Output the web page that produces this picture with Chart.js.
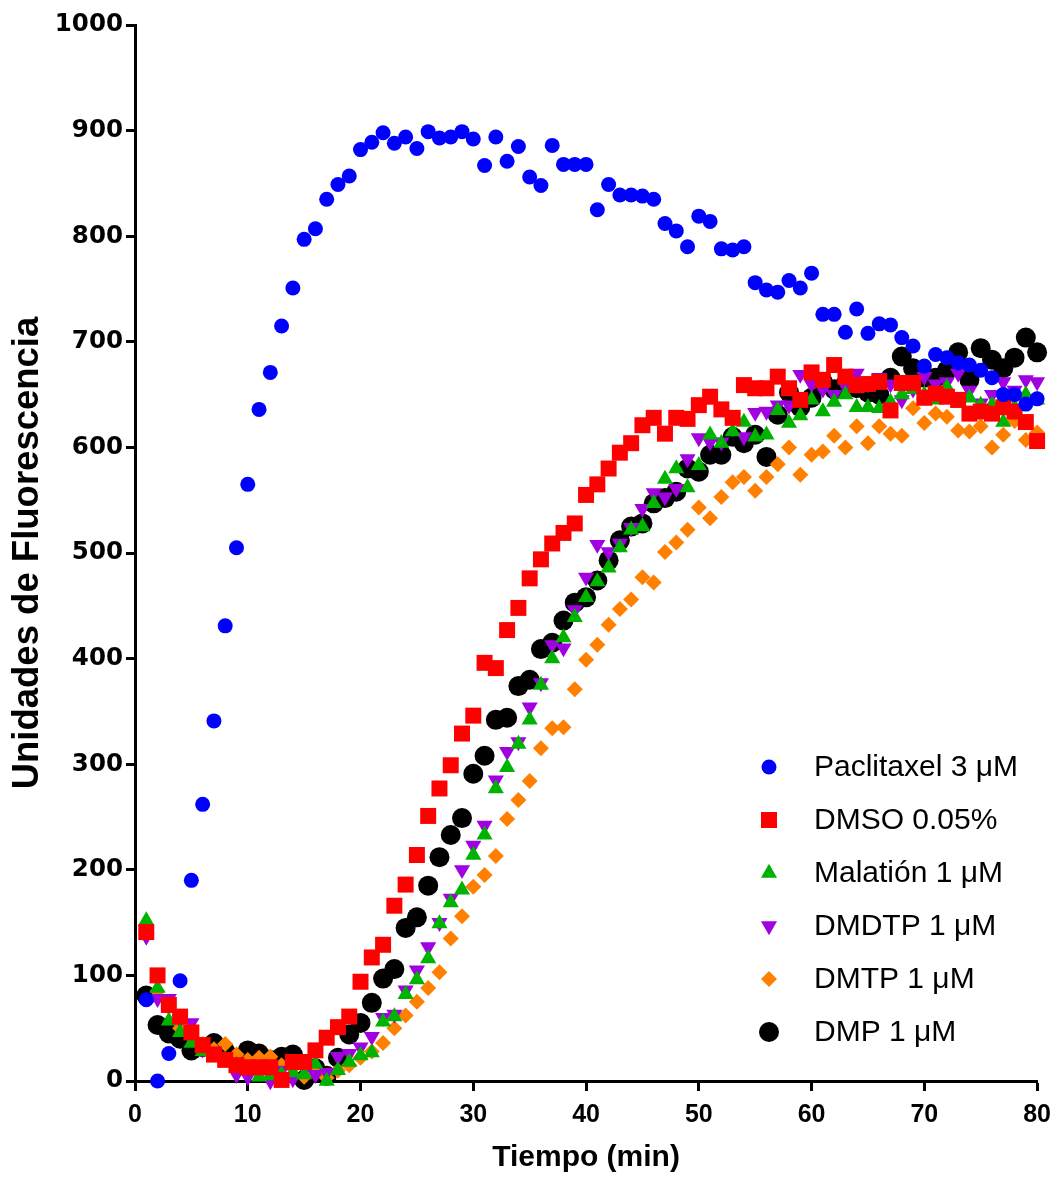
<!DOCTYPE html>
<html>
<head>
<meta charset="utf-8">
<script src="https://cdn.jsdelivr.net/npm/chart.js@4/dist/chart.umd.min.js"></script>
<style>
  html, body { margin: 0; padding: 0; background: #fff; }
  #wrap { width: 1060px; height: 1177px; }
</style>
</head>
<body>
<div id="wrap"><canvas id="fluoChart" width="1060" height="1177"></canvas></div>
<script>
// tiempo en minutos
const tiempo = [1,2,3,4,5,6,7,8,9,10,11,12,13,14,15,16,17,18,19,20,
  21,22,23,24,25,26,27,28,29,30,31,32,33,34,35,36,37,38,39,40,
  41,42,43,44,45,46,47,48,49,50,51,52,53,54,55,56,57,58,59,60,
  61,62,63,64,65,66,67,68,69,70,71,72,73,74,75,76,77,78,79,80];

const paclitaxel = [77,0,26,95,190,262,341,431,505,565,636,671,715,751,797,807,835,849,857,882,
  889,898,888,894,883,899,893,894,899,892,867,894,871,885,856,848,886,868,868,868,
  825,849,839,839,838,835,812,805,790,819,814,788,787,790,756,749,747,758,751,765,
  726,726,709,731,708,717,716,704,696,677,688,685,680,678,673,666,650,650,641,646];

const dmso = [141,100,72,61,46,34,25,20,15,13,13,13,1,18,18,29,41,51,61,94,
  117,129,166,186,214,251,277,299,329,346,396,391,427,448,476,494,509,519,528,555,
  565,580,595,604,621,628,613,628,627,640,648,636,628,659,656,656,667,656,645,671,
  664,678,667,659,660,662,635,661,661,647,651,648,645,632,634,632,638,634,624,606];

const malation = [152,88,57,46,36,28,23,20,15,10,4,5,6,8,6,16,0,10,18,24,
  27,56,61,82,96,116,149,169,181,214,233,277,297,319,342,375,400,420,439,458,
  473,486,505,522,525,547,570,580,562,583,612,604,615,624,610,612,635,623,630,645,
  634,643,650,638,638,637,643,650,655,650,645,657,642,647,640,640,624,638,650,645];

const dmdtp = [137,78,78,58,55,30,28,22,6,4,10,0,10,2,12,6,8,23,26,32,
  42,60,63,86,105,127,150,173,200,223,242,285,312,321,354,377,413,410,446,477,
  508,501,509,524,542,557,553,561,589,609,605,605,628,610,633,634,640,640,669,660,
  655,650,658,670,660,666,660,645,655,667,660,662,670,654,642,650,662,654,664,662];

const dmtp = [138,85,70,50,42,35,30,35,25,20,22,23,15,12,4,8,3,10,15,22,
  28,36,50,62,75,88,103,135,156,184,195,213,248,266,284,315,334,335,371,399,
  413,432,447,456,477,472,501,510,522,543,533,553,567,572,559,572,584,600,574,593,
  596,611,600,620,604,620,613,611,637,623,632,629,616,615,620,600,612,625,607,614];

const dmp = [81,53,45,40,29,32,36,28,22,29,26,20,23,25,1,12,5,22,44,55,
  74,97,106,145,155,185,212,233,249,291,308,342,344,374,380,409,415,436,453,458,
  474,493,512,525,528,547,552,558,580,577,593,593,610,604,612,591,631,652,638,647,
  662,655,660,656,652,650,666,686,675,666,666,673,690,664,694,683,675,685,704,690];

const etiquetas = ['Paclitaxel 3 \u03BCM', 'DMSO 0.05%', 'Malati\u00F3n 1 \u03BCM',
  'DMDTP 1 \u03BCM', 'DMTP 1 \u03BCM', 'DMP 1 \u03BCM'];

function puntos(vals) {
  return vals.map(function (v, i) { return { x: tiempo[i], y: v }; });
}

function serie(label, vals, color, style, radius, rotation) {
  return {
    label: label,
    data: puntos(vals),
    showLine: false,
    backgroundColor: color,
    borderColor: color,
    pointBackgroundColor: color,
    pointBorderWidth: 0,
    pointStyle: style,
    pointRadius: radius,
    pointHoverRadius: radius,
    pointRotation: rotation || 0,
    clip: false
  };
}

// leyenda dentro del area del grafico
const leyendaInterna = {
  id: 'leyendaInterna',
  afterDraw: function (chart) {
    const ctx = chart.ctx;
    const x0 = 769, y0 = 767, paso = 53;
    ctx.save();
    chart.data.datasets.forEach(function (ds, i) {
      const y = y0 + i * paso;
      ctx.fillStyle = ds.pointBackgroundColor;
      const opts = { pointStyle: ds.pointStyle, radius: ds.pointRadius, rotation: ds.pointRotation, borderWidth: 0 };
      Chart.helpers.drawPoint(ctx, opts, x0, y);
      ctx.fillStyle = '#000';
      ctx.font = '30px "Liberation Sans", Arial, sans-serif';
      ctx.textBaseline = 'middle';
      ctx.textAlign = 'left';
      ctx.fillText(ds.label, 814, y + 1);
    });
    ctx.restore();
  }
};

document.addEventListener('DOMContentLoaded', function () {
  const el = document.getElementById('fluoChart');
  new Chart(el, {
    type: 'scatter',
    data: {
      datasets: [
        serie(etiquetas[0], paclitaxel, '#0000ff', 'circle', 7.5),
        serie(etiquetas[1], dmso, '#ff0000', 'rect', 11.3),
        serie(etiquetas[2], malation, '#00b300', 'triangle', 9.3),
        serie(etiquetas[3], dmdtp, '#a100e0', 'triangle', 9.3, 180),
        serie(etiquetas[4], dmtp, '#ff8000', 'rectRot', 8),
        serie(etiquetas[5], dmp, '#000000', 'circle', 10)
      ]
    },
    options: {
      responsive: false,
      animation: false,
      devicePixelRatio: 1,
      layout: { padding: { left: 0, top: 25, right: 20, bottom: 0 } },
      plugins: { legend: { display: false }, tooltip: { enabled: false } },
      scales: {
        x: {
          type: 'linear',
          min: 0, max: 80,
          afterFit: function (s) { s.height = 1177 - 1081; },
          ticks: { stepSize: 10, color: '#000', padding: 9,
            callback: function (v) { return String(v); },
            font: { family: '"Liberation Sans", Arial, sans-serif', size: 25, weight: 'bold' } },
          grid: { drawOnChartArea: false, drawTicks: true, tickLength: 10, tickWidth: 3, tickColor: '#000' },
          border: { display: true, width: 3, color: '#000' },
          title: { display: true, text: 'Tiempo (min)', color: '#000', padding: { top: 0, bottom: 1 },
            font: { family: '"Liberation Sans", Arial, sans-serif', size: 30, weight: 'bold', lineHeight: 1.2 } }
        },
        y: {
          min: 0, max: 1000,
          afterFit: function (s) { s.width = 135; },
          ticks: { stepSize: 100, color: '#000', padding: 3,
            callback: function (v) { return String(v); },
            font: { family: '"DejaVu Sans", sans-serif', size: 24.5, weight: 'bold' } },
          grid: { drawOnChartArea: false, drawTicks: true, tickLength: 9, tickWidth: 3, tickColor: '#000' },
          border: { display: true, width: 3, color: '#000' },
          title: { display: true, text: 'Unidades de Fluorescencia', color: '#000', padding: { top: 6, bottom: 0 },
            font: { family: '"Liberation Sans", Arial, sans-serif', size: 36.5, weight: 'bold', lineHeight: 1.2 } }
        }
      }
    },
    plugins: [leyendaInterna]
  });
});
</script>
</body>
</html>
